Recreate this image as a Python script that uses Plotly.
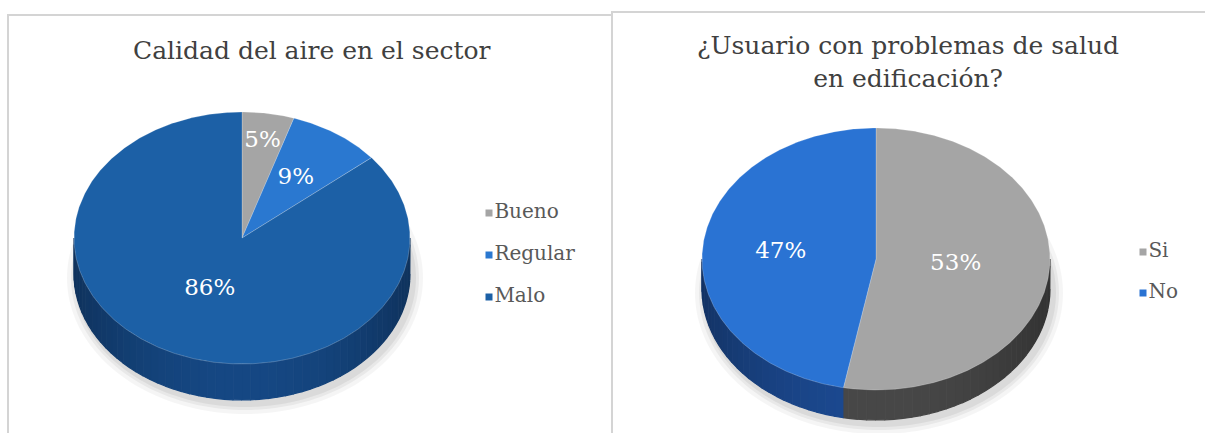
import math
import plotly.graph_objects as go

# ---- data ----
air_labels = ["Bueno", "Regular", "Malo"]
air_values = [5, 9, 86]
air_title = "Calidad del aire en el sector"

health_labels = ["Si", "No"]
health_values = [53, 47]
health_title = "¿Usuario con problemas de salud<br>en edificación?"

# ---- styling ----
air_face = ["#a5a5a5", "#2a78d0", "#1c60a6"]
air_side = ["#6e6e6e", "#1a4c8a", "#123c6e"]
health_face = ["#a5a5a5", "#2a73d3"]
health_side = ["#3c3c3c", "#173d78"]

SERIF = "DejaVu Serif"
W, H = 1205, 433

fig = go.Figure()


def ell(cx, cy, rx, ry, t, dy=0.0):
    """Point on the ellipse for angle t (degrees, clockwise from 12 o'clock)."""
    r = math.radians(t)
    return cx + rx * math.sin(r), cy - ry * math.cos(r) + dy


def arc(cx, cy, rx, ry, a, b, dy=0.0, step=1.0):
    n = max(2, int(abs(b - a) / step) + 1)
    pts = [ell(cx, cy, rx, ry, a + (b - a) * i / (n - 1), dy) for i in range(n)]
    return [p[0] for p in pts], [p[1] for p in pts]


def shade(hex_color, k):
    h = hex_color.lstrip("#")
    rgb = [int(h[i:i + 2], 16) for i in (0, 2, 4)]
    rgb = [max(0, min(255, int(c * k))) for c in rgb]
    return "rgb(%d,%d,%d)" % tuple(rgb)


def pie3d(values, faces, sides, cx, cy, rx, ry, depth):
    total = float(sum(values))
    bounds = []
    acc = 0.0
    for v in values:
        a = acc / total * 360.0
        acc += v
        bounds.append((a, acc / total * 360.0))

    # soft drop shadow
    for grow, alpha in [(10, 0.04), (6, 0.05), (3, 0.06)]:
        xs, ys = arc(cx + 3, cy + depth + 4, rx + grow, ry + grow, 0, 360, step=2)
        fig.add_trace(go.Scatter(x=xs, y=ys, fill="toself", mode="none",
                                 fillcolor="rgba(0,0,0,%s)" % alpha,
                                 hoverinfo="skip", showlegend=False))

    # front wall, split into thin strips for a simple lighting gradient
    for (a, b), col in zip(bounds, sides):
        lo, hi = max(a, 90.0), min(b, 270.0)
        t = lo
        while t < hi:
            t2 = min(hi, t + 3.0)
            mid = (t + t2) / 2.0
            k = 0.85 + 0.35 * math.sin(math.radians(mid - 90.0)) ** 2
            c = shade(col, k)
            x1, y1 = arc(cx, cy, rx, ry, t, t2, step=0.5)
            x2, y2 = arc(cx, cy, rx, ry, t2, t, dy=depth, step=0.5)
            fig.add_trace(go.Scatter(x=x1 + x2, y=y1 + y2, fill="toself", mode="lines",
                                     line=dict(color=c, width=1.2),
                                     fillcolor=c, hoverinfo="skip", showlegend=False))
            t = t2

    # top face wedges
    for (a, b), col in zip(bounds, faces):
        xs, ys = arc(cx, cy, rx, ry, a, b, step=0.5)
        fig.add_trace(go.Scatter(x=[cx] + xs + [cx], y=[cy] + ys + [cy], fill="toself",
                                 mode="lines", line=dict(color="rgba(255,255,255,0.35)", width=0.6),
                                 fillcolor=col, hoverinfo="skip", showlegend=False))
    return bounds


def pct_labels(values, bounds, cx, cy, rx, ry, radial, size):
    total = float(sum(values))
    xs, ys, txt = [], [], []
    for v, (a, b), r in zip(values, bounds, radial):
        x, y = ell(cx, cy, rx * r, ry * r, (a + b) / 2.0)
        xs.append(x)
        ys.append(y)
        txt.append("%d%%" % round(v / total * 100))
    fig.add_trace(go.Scatter(x=xs, y=ys, mode="text", text=txt,
                             textfont=dict(family=SERIF, size=size, color="white"),
                             hoverinfo="skip", showlegend=False))


def legend_block(labels, colors, x, y0, gap):
    for i, (lab, col) in enumerate(zip(labels, colors)):
        fig.add_trace(go.Scatter(x=[x], y=[y0 + i * gap], mode="markers+text", text=[lab],
                                 textposition="middle right",
                                 marker=dict(symbol="square", size=7, color=col),
                                 textfont=dict(family=SERIF, size=20, color="#595959"),
                                 hoverinfo="skip", showlegend=False, name=lab))


# left chart
b1 = pie3d(air_values, air_face, air_side, 242, 238, 168, 126, 36)
pct_labels(air_values, b1, 242, 238, 168, 126, [0.78, 0.57, 0.45], 23)
legend_block(air_labels, air_face, 489, 213, 42)

# right chart
b2 = pie3d(health_values, health_face, health_side, 876, 259, 174, 131, 30)
pct_labels(health_values, b2, 876, 259, 174, 131, [0.46, 0.55], 23)
legend_block(health_labels, health_face, 1143, 252, 41)

# panel frames
fig.add_shape(type="rect", x0=8, y0=15, x1=612, y1=440, line=dict(color="#d4d4d4", width=2),
              layer="below")
fig.add_shape(type="rect", x0=612, y0=12, x1=1215, y1=440, line=dict(color="#d4d4d4", width=2),
              layer="below")

# titles
fig.add_annotation(x=312, y=50, text=air_title, showarrow=False,
                   font=dict(family=SERIF, size=25, color="#404040"))
fig.add_annotation(x=908, y=62, text=health_title, showarrow=False,
                   font=dict(family=SERIF, size=25, color="#404040"))

fig.update_layout(
    width=W, height=H, margin=dict(l=0, r=0, t=0, b=0),
    paper_bgcolor="white", plot_bgcolor="white",
    xaxis=dict(range=[0, W], visible=False, fixedrange=True),
    yaxis=dict(range=[H, 0], visible=False, fixedrange=True),
    showlegend=False,
)

fig.write_html("out.html")
